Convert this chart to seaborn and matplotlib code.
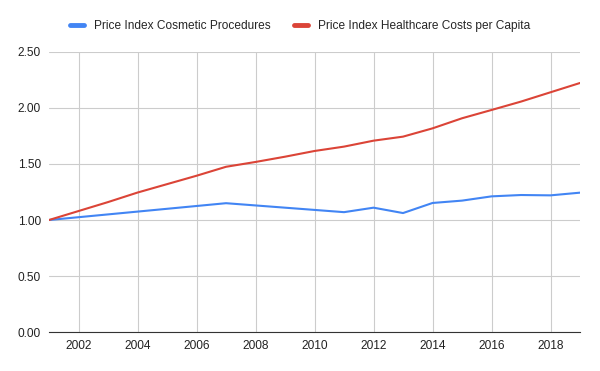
import pandas as pd
import numpy as np
import matplotlib
matplotlib.use("Agg")
import matplotlib.pyplot as plt
import seaborn as sns

years = list(range(2001, 2020))
cosmetic = [1.00, 1.025, 1.05, 1.075, 1.10, 1.125, 1.15, 1.13, 1.11, 1.09,
            1.07, 1.11, 1.062, 1.152, 1.173, 1.211, 1.223, 1.22, 1.244]
healthcare = [1.00, 1.08, 1.16, 1.245, 1.32, 1.395, 1.475, 1.518, 1.565, 1.616,
              1.655, 1.708, 1.744, 1.818, 1.908, 1.982, 2.057, 2.14, 2.223]
series_names = ["Price Index Cosmetic Procedures", "Price Index Healthcare Costs per Capita"]
colors = ["#4285F4", "#DB4437"]

df = pd.DataFrame({"year": years, series_names[0]: cosmetic, series_names[1]: healthcare})
long_df = df.melt(id_vars="year", var_name="series", value_name="value")

sns.set_style("white")
plt.rcParams["font.family"] = ["Liberation Sans", "DejaVu Sans"]

fig = plt.figure(figsize=(6, 3.71), dpi=100)
ax = fig.add_axes([0.0817, 0.105, 0.885, 0.755])

sns.lineplot(data=long_df, x="year", y="value", hue="series", palette=colors,
             linewidth=1.5, ax=ax, legend=False)

ax.set_xlim(2001, 2019)
ax.set_ylim(0, 2.5)
ax.set_xticks(range(2002, 2019, 2))
ax.set_yticks(np.arange(0, 2.51, 0.5))
ax.set_yticklabels([f"{v:.2f}" for v in np.arange(0, 2.51, 0.5)])
ax.grid(True, color="#cccccc", linewidth=0.8)
ax.set_axisbelow(True)
for s in ["top", "right", "left"]:
    ax.spines[s].set_visible(False)
ax.spines["bottom"].set_color("#333333")
ax.spines["bottom"].set_zorder(3)
ax.tick_params(axis="both", length=0, labelsize=8.6, colors="#222222", pad=6)
ax.set_xlabel("")
ax.set_ylabel("")

handles = [plt.Line2D([], [], color=c, linewidth=3.5) for c in colors]
fig.legend(handles, series_names, loc="center", bbox_to_anchor=(0.5, 0.93), ncol=2,
           frameon=False, fontsize=8.6, handlelength=1.2, columnspacing=2.0,
           handletextpad=0.8)

fig.savefig("out.png", dpi=100)
